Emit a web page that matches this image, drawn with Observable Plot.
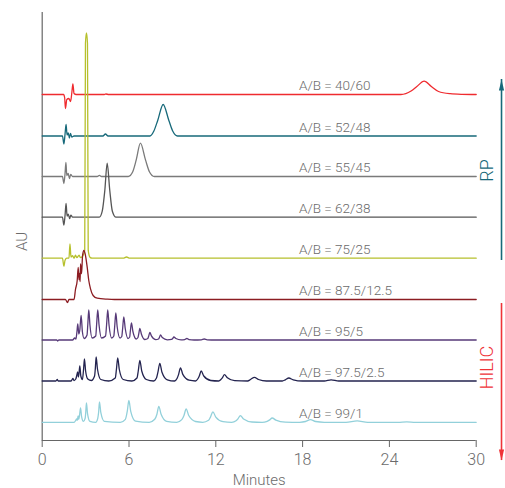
<!DOCTYPE html>
<html>
<head>
<meta charset="utf-8">
<script src="https://cdn.jsdelivr.net/npm/d3@7"></script>
<script src="https://cdn.jsdelivr.net/npm/@observablehq/plot@0.6"></script>
<style>
  html, body { margin: 0; padding: 0; background: #fff; }
  #chart { width: 505px; height: 488px; overflow: hidden; }
</style>
</head>
<body>
<div id="chart"></div>
<script>
// ---- Data (time in minutes, signal in AU, relative to each trace's baseline) ----
const ratios = ["40/60", "52/48", "55/45", "62/38", "75/25", "87.5/12.5", "95/5", "97.5/2.5", "99/1"];
const offsets = [34.6, 30.45, 26.4, 22.33, 18.23, 14.1, 10.05, 5.95, 1.82];
const colors = ["#ef2b2f", "#17697a", "#7a7a7a", "#555555", "#b6c02c", "#8c1c22", "#573a78", "#23234f", "#92d0da"];
const xTicks = [0, 6, 12, 18, 24, 30];

const trace4060 = [[0,0],[1.48,0],[1.55,-0.3],[1.61,-1.4],[1.7,-0.5],[1.84,-0.4],[1.96,-0.7],[2.05,0.2],[2.12,1.07],[2.2,0.1],[2.35,0],[4.3,0],[4.4,0.05],[4.6,0],[24.8,0],[25.5,0.35],[25.9,0.8],[26.4,1.33],[26.9,0.8],[27.4,0.3],[28.2,0.08],[29,0.02],[30,0]];
const trace5248 = [[0,0],[1.4,0],[1.5,-0.8],[1.58,0.2],[1.65,1.15],[1.72,0.1],[1.8,0.3],[1.88,-0.2],[1.95,0.25],[2.05,-0.1],[2.2,0],[4.2,0],[4.37,0.2],[4.55,0],[7.45,0],[7.72,0.5],[7.99,1.58],[8.36,3.15],[8.75,1.58],[9.02,0.5],[9.35,0],[30,0]];
const trace5545 = [[0,0],[1.4,0],[1.5,-0.7],[1.58,0.3],[1.64,1.4],[1.7,0.1],[1.8,0.3],[1.88,-0.2],[1.97,0.2],[2.1,0],[3.8,0],[3.95,0.12],[4.1,0],[5.95,0],[6.25,0.45],[6.5,1.66],[6.79,3.33],[7.14,1.66],[7.42,0.45],[7.75,0],[30,0]];
const trace6238 = [[0,0],[1.4,0],[1.5,-0.8],[1.58,0.2],[1.65,1.38],[1.72,0.1],[1.8,0.3],[1.9,-0.15],[1.98,0.2],[2.1,0],[3.95,0],[4.15,0.6],[4.33,2.7],[4.49,5.4],[4.67,2.7],[4.85,0.6],[5.1,0],[30,0]];
const trace7525 = [[0,0],[1.4,0],[1.5,-0.8],[1.58,-0.2],[1.7,0],[1.85,0],[1.92,1.44],[1.99,0.1],[2.1,0.25],[2.2,0],[2.3,0.3],[2.4,0.05],[2.55,0.3],[2.65,0.05],[2.8,0.2],[2.94,0.8],[2.99,21.5],[3.06,22.54],[3.13,21.5],[3.18,0.8],[3.3,0.1],[3.45,0],[5.6,0],[5.83,0.12],[6.05,0],[30,0]];
const trace87512 = [[0,0],[1.6,0],[1.75,-0.3],[1.85,0],[2.2,0],[2.3,1.0],[2.42,1.9],[2.49,3.2],[2.54,2.0],[2.58,2.6],[2.62,1.8],[2.65,3.57],[2.72,2.57],[2.79,4.4],[2.88,4.9],[2.97,4.57],[3.11,3.23],[3.22,1.9],[3.34,1.07],[3.52,0.4],[3.8,0.13],[4.5,0.03],[5,0],[30,0]];
const trace955 = [[0,0],[1.0,0],[1.08,-0.1],[1.15,0],[2.1,0],[2.25,0.2],[2.33,0.1],[2.4,0.8],[2.46,1.6],[2.53,0.6],[2.6,1.0],[2.69,2.45],[2.78,0.8],[2.9,0.15],[3.1,0.5],[3.15,1.5],[3.22,3.0],[3.3,1.5],[3.45,0.2],[3.7,0.4],[3.76,1.5],[3.84,3.0],[3.93,1.5],[4.1,0.2],[4.38,0.4],[4.45,1.5],[4.53,3.0],[4.62,1.5],[4.8,0.2],[4.95,0.4],[5.01,1.35],[5.09,2.7],[5.18,1.35],[5.38,0.2],[5.5,0.35],[5.56,1.15],[5.64,2.3],[5.74,1.15],[5.93,0.15],[6.05,0.3],[6.09,0.85],[6.17,1.7],[6.27,0.85],[6.5,0.1],[6.62,0.25],[6.67,0.58],[6.75,1.15],[6.86,0.58],[7.1,0.05],[7.3,0.15],[7.36,0.38],[7.44,0.75],[7.56,0.38],[7.85,0.03],[8.04,0.1],[8.1,0.25],[8.18,0.5],[8.3,0.25],[8.65,0.02],[8.95,0.06],[9.02,0.15],[9.1,0.3],[9.24,0.15],[9.6,0.01],[9.85,0.04],[10.0,0.15],[10.15,0.04],[10.5,0],[11.0,0.02],[11.2,0.1],[11.4,0.02],[12,0],[30,0]];
const trace97525 = [[0,0],[0.95,0],[1.04,0.15],[1.1,0],[2.0,0],[2.12,0.25],[2.2,0.05],[2.32,0.2],[2.38,0.5],[2.45,0.9],[2.5,0.4],[2.54,0.7],[2.6,1.5],[2.67,0.5],[2.78,0.15],[2.85,1.0],[2.92,2.2],[3.0,1.0],[3.15,0.2],[3.4,0.05],[3.62,0.5],[3.67,1.2],[3.73,2.4],[3.82,1.2],[4.05,0.15],[4.6,0],[5.05,0.3],[5.13,1.15],[5.22,2.3],[5.33,1.15],[5.6,0.15],[6.2,0],[6.55,0.3],[6.64,1.0],[6.75,2.07],[6.88,1.0],[7.2,0.15],[7.7,0],[7.9,0.3],[8.0,0.88],[8.13,1.77],[8.28,0.88],[8.65,0.12],[9.15,0],[9.32,0.25],[9.43,0.66],[9.56,1.32],[9.72,0.66],[10.15,0.08],[10.6,0],[10.75,0.2],[10.86,0.5],[10.99,1.0],[11.17,0.5],[11.65,0.05],[12.2,0],[12.35,0.15],[12.45,0.32],[12.6,0.63],[12.8,0.32],[13.3,0.03],[14.2,0],[14.4,0.15],[14.67,0.37],[14.95,0.15],[15.5,0],[16.6,0],[16.8,0.12],[17.05,0.3],[17.35,0.12],[18,0],[19.5,0],[19.97,0.12],[20.5,0],[30,0]];
const trace991 = [[0,0],[2.2,0],[2.32,0.2],[2.38,0.35],[2.43,0.2],[2.48,0.65],[2.53,0.3],[2.58,0.7],[2.65,1.45],[2.72,0.6],[2.85,0.1],[2.97,0.4],[3.01,1.0],[3.06,1.95],[3.13,0.9],[3.3,0.1],[3.7,0],[3.84,0.4],[3.9,1.0],[3.96,2.05],[4.05,1.0],[4.3,0.1],[5.4,0],[5.75,0.3],[5.88,1.1],[5.99,2.18],[6.12,1.1],[6.45,0.12],[7.4,0],[7.78,0.3],[7.93,0.8],[8.06,1.6],[8.22,0.8],[8.6,0.1],[9.3,0],[9.65,0.27],[9.8,0.68],[9.95,1.35],[10.13,0.68],[10.6,0.08],[11.1,0],[11.5,0.2],[11.63,0.52],[11.8,1.05],[12.0,0.52],[12.5,0.06],[13.1,0],[13.4,0.15],[13.52,0.33],[13.7,0.67],[13.92,0.33],[14.5,0.03],[15.2,0],[15.55,0.1],[15.7,0.22],[15.9,0.43],[16.15,0.22],[16.8,0.02],[17.8,0],[18.2,0.08],[18.54,0.27],[18.9,0.08],[19.5,0],[21.0,0],[21.77,0.15],[22.5,0],[24.6,0],[25.2,0.05],[25.8,0],[30,0]];

const traces = [trace4060, trace5248, trace5545, trace6238, trace7525, trace87512, trace955, trace97525, trace991];

// Annotations (data units: minutes / AU)
const labelTime = 17.75;
const modes = [
  {name: "RP", x: 31.75, base: 18.0, tip: 36.1, textX: 30.77, textY: 27.0, color: "#17697a"},
  {name: "HILIC", x: 31.75, base: 13.7, tip: -2.0, textX: 30.77, textY: 7.3, color: "#ef3338"}
];

// ---- Build ----
const upHead = { draw(ctx) { ctx.moveTo(0, 0); ctx.lineTo(2.6, 11); ctx.lineTo(-2.6, 11); ctx.closePath(); } };
const downHead = { draw(ctx) { ctx.moveTo(0, 0); ctx.lineTo(2.6, -11); ctx.lineTo(-2.6, -11); ctx.closePath(); } };

const lineMarks = traces.map((tr, i) =>
  Plot.line(tr.map(([t, v]) => ({t, y: offsets[i] + v})), {
    x: "t", y: "y", stroke: colors[i], strokeWidth: 1.3, curve: "monotone-x"
  })
);

const labelRows = ratios.map((r, i) => ({label: `A/B = ${r}`, t: labelTime, y: offsets[i] + 0.42}));

const modeMarks = modes.flatMap((m, i) => [
  Plot.ruleX([m], {x: "x", y1: "base", y2: "tip", stroke: m.color, strokeWidth: 1.6}),
  Plot.dot([m], {x: "x", y: "tip", symbol: i === 0 ? upHead : downHead, fill: m.color, stroke: "none", r: 3}),
  Plot.text([m], {x: "textX", y: "textY", text: "name", rotate: -90, fill: m.color, fontSize: 18, textAnchor: "middle"})
]);

const chart = Plot.plot({
  width: 505,
  height: 488,
  marginLeft: 41.7,
  marginRight: 29.3,
  marginTop: 12,
  marginBottom: 48,
  style: {fontFamily: "Roboto, 'Liberation Sans', sans-serif", fontWeight: 300, color: "#6b6b6b", background: "#fff", overflow: "visible"},
  x: {domain: [0, 30]},
  y: {domain: [0, 42.8]},
  marks: [
    Plot.axisX({ticks: xTicks, tickSize: 7, tickPadding: 6, fontSize: 16, label: null, stroke: "#666"}),
    Plot.axisY({ticks: [], label: null}),
    Plot.ruleX([0], {stroke: "#666", strokeWidth: 1.2}),
    Plot.ruleY([0], {stroke: "#666", strokeWidth: 1.2}),
    ...lineMarks,
    Plot.text(labelRows, {x: "t", y: "y", text: "label", textAnchor: "start", lineAnchor: "bottom", fontSize: 13.5, fill: "#6b6b6b"}),
    ...modeMarks,
    Plot.text(["AU"], {x: () => -1.36, y: () => 19.9, text: d => d, rotate: -90, fontSize: 15, fill: "#6b6b6b", textAnchor: "middle"}),
    Plot.text(["Minutes"], {frameAnchor: "bottom", dy: 44, lineAnchor: "bottom", fontSize: 15, fill: "#6b6b6b"})
  ]
});

document.getElementById("chart").appendChild(chart);
</script>
</body>
</html>
